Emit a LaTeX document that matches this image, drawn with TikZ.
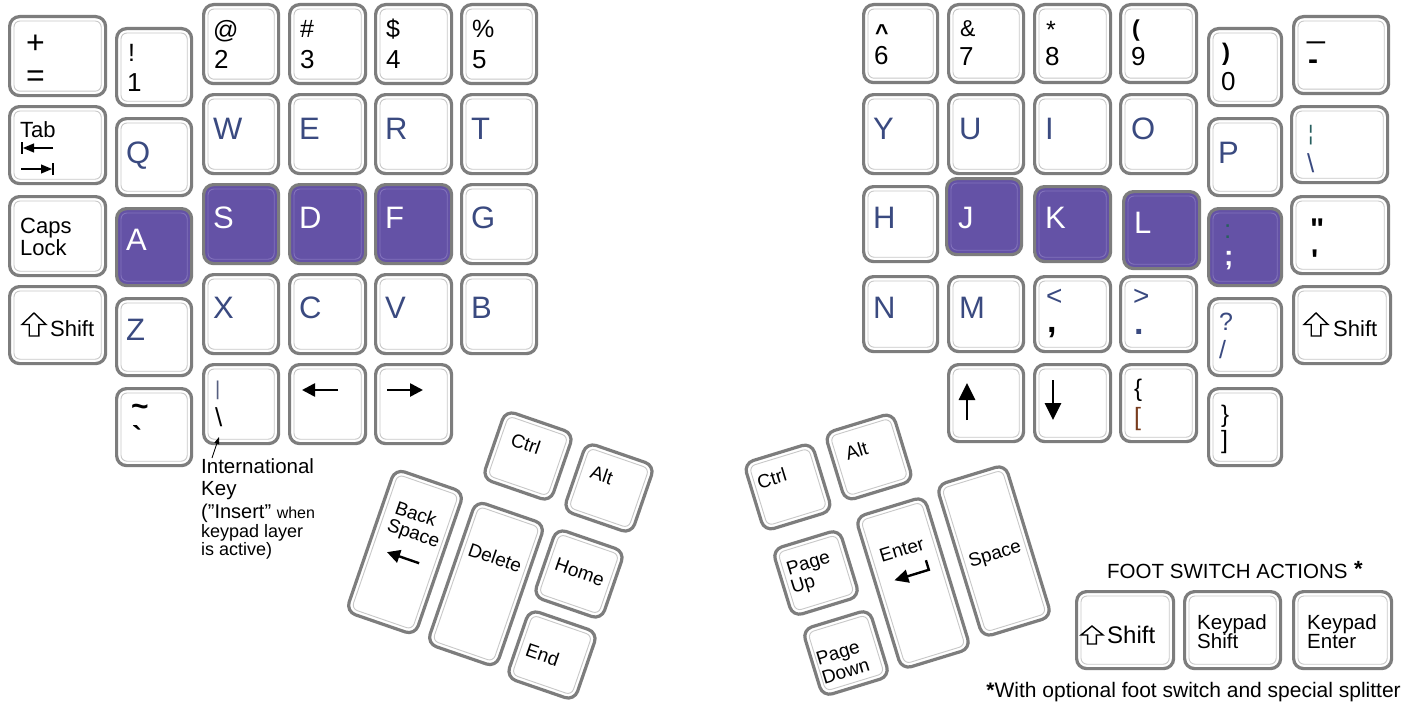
\documentclass[tikz,border=0pt]{standalone}
\usepackage{fontspec}
\setmainfont{Liberation Sans}
\usetikzlibrary{arrows.meta}
\definecolor{keyborder}{RGB}{125,125,125}
\definecolor{keyinner}{RGB}{200,200,200}
\definecolor{ltrblue}{RGB}{58,74,128}
\definecolor{homepurple}{RGB}{100,82,166}
\definecolor{purpleinner}{RGB}{130,114,188}
\definecolor{darkteal}{RGB}{40,95,95}
\definecolor{brownish}{RGB}{120,60,30}
\newcommand\fs[1]{\fontsize{#1}{#1}\selectfont}
\tikzset{
 keyw/.style={draw=keyborder, line width=3.2pt, rounded corners=10pt, fill=white, inner sep=0pt, anchor=north west},
 keyp/.style={keyw, fill=homepurple},
 keyin/.style={draw=keyinner, line width=0.9pt, rounded corners=6pt},
 keyinp/.style={draw=purpleinner, line width=0.9pt, rounded corners=6pt},
 lbl/.style={inner sep=0pt, anchor=base west, font=\fs{26}},
 sym/.style={lbl, font=\fs{25}},
 big/.style={lbl, font=\fs{32}},
 ltr/.style={lbl, font=\fs{31}, text=ltrblue},
 ltrp/.style={lbl, font=\fs{31}, text=white},
 small/.style={lbl, font=\fs{22}},
 thumb/.style={inner sep=0pt, font=\fs{19}},
 karrow/.style={line width=2.6pt, -{Triangle[length=13pt,width=13pt]}},
 varrow/.style={line width=2.8pt, -{Triangle[length=17pt,width=16pt]}},
 shiftline/.style={line width=1.4pt, line join=miter},
 tabline/.style={line width=1.2pt},
 tabhead/.style={tabline, -{Triangle[length=11pt,width=9pt]}},
}
\newcommand\kb[5]{%
  \node[keyw,minimum width=#4pt-3pt,minimum height=#5pt-3pt] (#1) at (#2,#3) {};
  \draw[keyin] ([shift={(6pt,-6pt)}]#1.north west) rectangle ([shift={(-6pt,6pt)}]#1.south east);}
\newcommand\kp[5]{%
  \node[keyp,minimum width=#4pt-3pt,minimum height=#5pt-3pt] (#1) at (#2,#3) {};
  \draw[keyinp] ([shift={(6pt,-6pt)}]#1.north west) rectangle ([shift={(-6pt,6pt)}]#1.south east);}
\newcommand\lb[6][lbl]{\node[#1] (#2#3) at ([shift={(#4pt,-#5pt)}]#2.north west) {#6};}
\newcommand\rk[7]{%
  \begin{scope}[shift={(#2,#3)},rotate=#4,transform shape]
    \node[keyw,anchor=center,minimum width=#5pt-3pt,minimum height=#6pt-3pt] (#1) at (0,0) {};
    \draw[keyin] ({-#5/2+6},{-#6/2+6}) rectangle ({#5/2-6},{#6/2-6});
    #7
  \end{scope}}
\newcommand\shiftar[5]{\draw[shiftline] ([shift={(#2pt,-#3pt)}]#1.north west) ++({#4/2},0) -- ++({#4/2},{#5/2}) -- ++({-0.3*#4},0) -- ++(0,{#5/2}) -- ++({-0.4*#4},0) -- ++(0,{-#5/2}) -- ++({-0.3*#4},0) -- cycle;}
\begin{document}
\begin{tikzpicture}[x=1pt,y=-1pt]
\useasboundingbox (0,0) rectangle (1414,709);
\fill[white] (0,0) rectangle (1414,709);
% ---------- left block ----------
\kb{kplus}{8}{15}{99}{82}\lb[big]{kplus}{a}{18}{39}{+}\lb[big]{kplus}{b}{18}{71}{=}
\kb{kone}{115}{27}{78}{80}\lb[sym]{kone}{a}{13}{35}{!}\lb{kone}{b}{12}{65}{1}
\kb{ktwo}{202}{3}{78}{82}\lb[sym]{ktwo}{a}{11}{36}{@}\lb{ktwo}{b}{12}{66}{2}
\kb{kthree}{288}{3}{79}{82}\lb[sym]{kthree}{a}{12}{35}{\#}\lb{kthree}{b}{12}{66}{3}
\kb{kfour}{374}{3}{79}{82}\lb[sym]{kfour}{a}{12}{35}{\$}\lb{kfour}{b}{12}{66}{4}
\kb{kfive}{460}{3}{78}{82}\lb[sym]{kfive}{a}{12}{35}{\%}\lb{kfive}{b}{12}{66}{5}
\kb{ktab}{8}{105}{99}{80}\lb[small]{ktab}{a}{12}{32}{Tab}
\draw[tabline] ([shift={(14pt,-37pt)}]ktab.north west) -- ([shift={(14pt,-49pt)}]ktab.north west);
\draw[tabhead] ([shift={(45pt,-43pt)}]ktab.north west) -- ([shift={(15pt,-43pt)}]ktab.north west);
\draw[tabhead] ([shift={(13pt,-64pt)}]ktab.north west) -- ([shift={(44pt,-64pt)}]ktab.north west);
\draw[tabline] ([shift={(45pt,-58pt)}]ktab.north west) -- ([shift={(45pt,-70pt)}]ktab.north west);
\kb{kq}{115}{117}{78}{80}\lb[ltr]{kq}{a}{11}{46}{Q}
\kb{kw}{202}{93}{78}{82}\lb[ltr]{kw}{a}{11}{46}{W}
\kb{ke}{288}{93}{79}{82}\lb[ltr]{ke}{a}{11}{46}{E}
\kb{kr}{374}{93}{79}{82}\lb[ltr]{kr}{a}{11}{46}{R}
\kb{kt}{460}{93}{78}{82}\lb[ltr]{kt}{a}{11}{46}{T}
\kb{kcaps}{8}{195}{99}{82}\lb[small]{kcaps}{a}{12}{38}{Caps}\lb[small]{kcaps}{b}{12}{60}{Lock}
\kp{ka}{115}{207}{78}{80}\lb[ltrp]{ka}{a}{11}{43}{A}
\kp{ks}{202}{183}{78}{82}\lb[ltrp]{ks}{a}{11}{45}{S}
\kp{kd}{288}{183}{79}{82}\lb[ltrp]{kd}{a}{11}{45}{D}
\kp{kf}{374}{183}{79}{82}\lb[ltrp]{kf}{a}{11}{45}{F}
\kb{kg}{460}{183}{78}{82}\lb[ltr]{kg}{a}{11}{45}{G}
\kb{klshift}{8}{285}{99}{80}\shiftar{klshift}{14}{28}{24}{23}\lb[small]{klshift}{a}{42}{51}{Shift}
\kb{kz}{115}{297}{78}{80}\lb[ltr]{kz}{a}{11}{43}{Z}
\kb{kx}{202}{273}{78}{82}\lb[ltr]{kx}{a}{11}{45}{X}
\kb{kc}{288}{273}{79}{82}\lb[ltr]{kc}{a}{11}{45}{C}
\kb{kv}{374}{273}{79}{82}\lb[ltr]{kv}{a}{11}{45}{V}
\kb{kb}{460}{273}{78}{82}\lb[ltr]{kb}{a}{11}{45}{B}
\kb{ktilde}{115}{387}{78}{80}\lb[lbl,font=\bfseries\fs{30}]{ktilde}{a}{16}{29}{\textasciitilde}\lb[lbl,font=\bfseries\fs{30}]{ktilde}{b}{17}{60}{\textasciigrave}
\kb{kintl}{202}{363}{78}{82}\lb[lbl,font=\fs{20},text=ltrblue!60!gray]{kintl}{a}{13}{32}{|}\lb[lbl,font=\fs{26}]{kintl}{b}{13}{63}{\textbackslash}
\kb{klarr}{288}{363}{79}{82}
\draw[karrow] ([shift={(50pt,-27pt)}]klarr.north west) -- ([shift={(14pt,-27pt)}]klarr.north west);
\kb{krarr}{374}{363}{79}{82}
\draw[karrow] ([shift={(13pt,-27pt)}]krarr.north west) -- ([shift={(49pt,-27pt)}]krarr.north west);
% international key note
\coordinate (ia) at (212,458);
\coordinate (ib) at (219,437);
\draw[line width=0.8pt,-{Triangle[length=7pt,width=5pt]}] (ia) -- (ib);
\node[lbl,font=\fs{20.5}] (intl1) at (201,473) {International};
\node[lbl,font=\fs{20.5}] (intl2) at (201,495) {Key};
\node[lbl,font=\fs{20}] (intl3) at (201,518) {(”Insert” {\fs{16}when}};
\node[lbl,font=\fs{18}] (intl4) at (201,537) {keypad layer};
\node[lbl,font=\fs{18}] (intl5) at (201,555) {is active)};
% ---------- left thumb ----------
\rk{klctrl}{528}{456}{-19}{75}{75}{\node[thumb] (klctrlt) at (-6,-11) {Ctrl};}
\rk{klalt}{609}{488}{-19}{75}{75}{\node[thumb] (klaltt) at (-11,-10) {Alt};}
\rk{kbksp}{405}{552}{-19}{76}{154}{\node[thumb] (kbkspa) at (-2,-40) {Back};\node[thumb] (kbkspb) at (2,-19) {Space};\draw[karrow,line width=2.4pt] (17,6) -- (-17,6);}
\rk{kdel}{486}{584}{-19}{76}{154}{\node[thumb] (kdelt) at (0,-28) {Delete};}
\rk{khome}{579}{574}{-19}{75}{75}{\node[thumb] (khomet) at (0,-2) {Home};}
\rk{kend}{552}{655}{-19}{75}{75}{\node[thumb] (kendt) at (-9,3) {End};}
% ---------- right block ----------
\kb{ksix}{862}{3}{77}{81}\lb[sym,font=\bfseries\fs{23}]{ksix}{a}{13}{38}{\textasciicircum}\lb{ksix}{b}{12}{62}{6}
\kb{kseven}{947}{3}{78}{81}\lb[sym,font=\fs{23}]{kseven}{a}{13}{34}{\&}\lb{kseven}{b}{12}{63}{7}
\kb{keight}{1033}{3}{79}{81}\lb[sym]{keight}{a}{13}{36}{*}\lb{keight}{b}{12}{63}{8}
\kb{knine}{1119}{3}{79}{81}\lb[lbl,font=\bfseries\fs{23}]{knine}{a}{13}{34}{(}\lb{knine}{b}{12}{63}{9}
\kb{kzero}{1207}{27}{76}{80}\lb[lbl,font=\bfseries\fs{24}]{kzero}{a}{15}{33}{)}\lb{kzero}{b}{14}{63}{0}
\kb{kminus}{1292}{15}{98}{80}\lb[lbl,font=\fs{32}]{kminus}{a}{15}{23}{\_}\lb[lbl,font=\bfseries\fs{30}]{kminus}{b}{16}{55}{-}
\kb{ky}{862}{93}{77}{82}\lb[ltr]{ky}{a}{11}{46}{Y}
\kb{ku}{947}{93}{78}{82}\lb[ltr]{ku}{a}{12}{46}{U}
\kb{ki}{1033}{93}{79}{82}\lb[ltr]{ki}{a}{12}{46}{I}
\kb{ko}{1119}{93}{79}{82}\lb[ltr]{ko}{a}{12}{46}{O}
\kb{kp}{1207}{117}{76}{80}\lb[ltr]{kp}{a}{11}{46}{P}
\kb{kbsl}{1290}{105}{99}{79}\lb[lbl,font=\fs{21},text=darkteal]{kbsl}{a}{18}{35}{¦}\lb[lbl,font=\fs{26},text=ltrblue]{kbsl}{b}{17}{67}{\textbackslash}
\kb{kh}{862}{185}{77}{78}\lb[ltr]{kh}{a}{11}{43}{H}
\kp{kj}{945}{177}{78}{79}\lb[ltrp]{kj}{a}{13}{51}{J}
\kp{kk}{1033}{185}{79}{78}\lb[ltrp]{kk}{a}{12}{43}{K}
\kp{kl}{1122}{190}{79}{80}\lb[ltrp]{kl}{a}{12}{43}{L}
\kp{ksemi}{1207}{207}{76}{80}\lb[lbl,font=\fs{26},text=darkteal]{ksemi}{a}{17}{31}{:}\lb[lbl,font=\bfseries\fs{28},text=white]{ksemi}{b}{17}{58}{;}
\kb{kquote}{1290}{195}{100}{80}\lb[lbl,font=\bfseries\fs{30}]{kquote}{a}{20}{44}{\textquotedbl}\lb[lbl,font=\bfseries\fs{30}]{kquote}{b}{21}{75}{\textquotesingle}
\kb{kn}{862}{275}{77}{78}\lb[ltr]{kn}{a}{11}{43}{N}
\kb{km}{947}{275}{78}{78}\lb[ltr]{km}{a}{12}{43}{M}
\kb{kcomma}{1033}{275}{79}{78}\lb[lbl,font=\fs{28},text=ltrblue]{kcomma}{a}{13}{30}{<}\lb[lbl,font=\bfseries\fs{34}]{kcomma}{b}{14}{57}{,}
\kb{kperiod}{1119}{275}{79}{78}\lb[lbl,font=\fs{28},text=ltrblue]{kperiod}{a}{14}{30}{>}\lb[lbl,font=\bfseries\fs{34},text=ltrblue]{kperiod}{b}{15}{59}{.}
\kb{kslash}{1207}{297}{76}{80}\lb[lbl,font=\fs{25},text=ltrblue]{kslash}{a}{12}{33}{?}\lb[lbl,font=\fs{25},text=ltrblue]{kslash}{b}{12}{61}{/}
\kb{krshift}{1292}{285}{100}{80}\shiftar{krshift}{12}{28}{24}{23}\lb[small]{krshift}{a}{41}{51}{Shift}
\kb{kup}{947}{363}{78}{80}
\draw[varrow] ([shift={(20pt,-57pt)}]kup.north west) -- ([shift={(20pt,-20pt)}]kup.north west);
\kb{kdown}{1033}{363}{79}{80}
\draw[varrow] ([shift={(20pt,-17pt)}]kdown.north west) -- ([shift={(20pt,-57pt)}]kdown.north west);
\kb{klbrace}{1119}{363}{79}{80}\lb[sym,font=\fs{24}]{klbrace}{a}{15}{33}{\{}\lb[lbl,font=\fs{25},text=brownish]{klbrace}{b}{15}{62}{[}
\kb{krbrace}{1207}{387}{76}{80}\lb[sym,font=\fs{24}]{krbrace}{a}{14}{35}{\}}\lb[lbl,font=\fs{25}]{krbrace}{b}{14}{61}{]}
% ---------- right thumb ----------
\rk{krctrl}{788}{487}{17}{74}{74}{\node[thumb] (krctrlt) at (-13,-13) {Ctrl};}
\rk{kralt}{869}{457}{17}{74}{74}{\node[thumb] (kraltt) at (-10,-10) {Alt};}
\rk{kpgup}{816}{573}{17}{73}{73}{\node[thumb,anchor=west] (kpgupa) at (-27,-10) {Page};\node[thumb,anchor=west] (kpgupb) at (-28,8) {Up};}
\rk{kpgdn}{846}{653}{17}{73}{73}{\node[thumb,anchor=west] (kpgdna) at (-30,-1) {Page};\node[thumb,anchor=west] (kpgdnb) at (-30,17) {Down};}
\rk{kenter}{913}{583}{17}{75}{162}{\node[thumb] (kentert) at (-1,-35) {Enter};\draw[line width=2.4pt,-{Triangle[length=14pt,width=13pt]}] (19,-18) -- (19,-8) -- (-17,-8);}
\rk{kspace}{994}{551}{17}{75}{162}{\node[thumb] (kspacet) at (0,4) {Space};}
% ---------- foot switch ----------
\node[lbl,font=\fs{20.5}] (foottitle) at (1107,578) {FOOT SWITCH ACTIONS};
\node[lbl,font=\bfseries\fs{22}] (footstar) at (1354,576) {*};
\kb{kfshift}{1075}{590}{100}{80}\shiftar{kfshift}{6}{36}{22}{18}\lb[lbl,font=\fs{24}]{kfshift}{a}{32}{53}{Shift}
\kb{kfkshift}{1183}{590}{99}{80}\lb[lbl,font=\fs{20.5}]{kfkshift}{a}{14}{39}{Keypad}\lb[lbl,font=\fs{20.5}]{kfkshift}{b}{14}{58}{Shift}
\kb{kfkenter}{1292}{590}{101}{80}\lb[lbl,font=\fs{20.5}]{kfkenter}{a}{15}{39}{Keypad}\lb[lbl,font=\fs{20.5}]{kfkenter}{b}{15}{58}{Enter}
\node[lbl,anchor=base east,font=\fs{21}] (footnote) at (1401,697) {\textbf{*}With optional foot switch and special splitter};
\end{tikzpicture}
\end{document}
